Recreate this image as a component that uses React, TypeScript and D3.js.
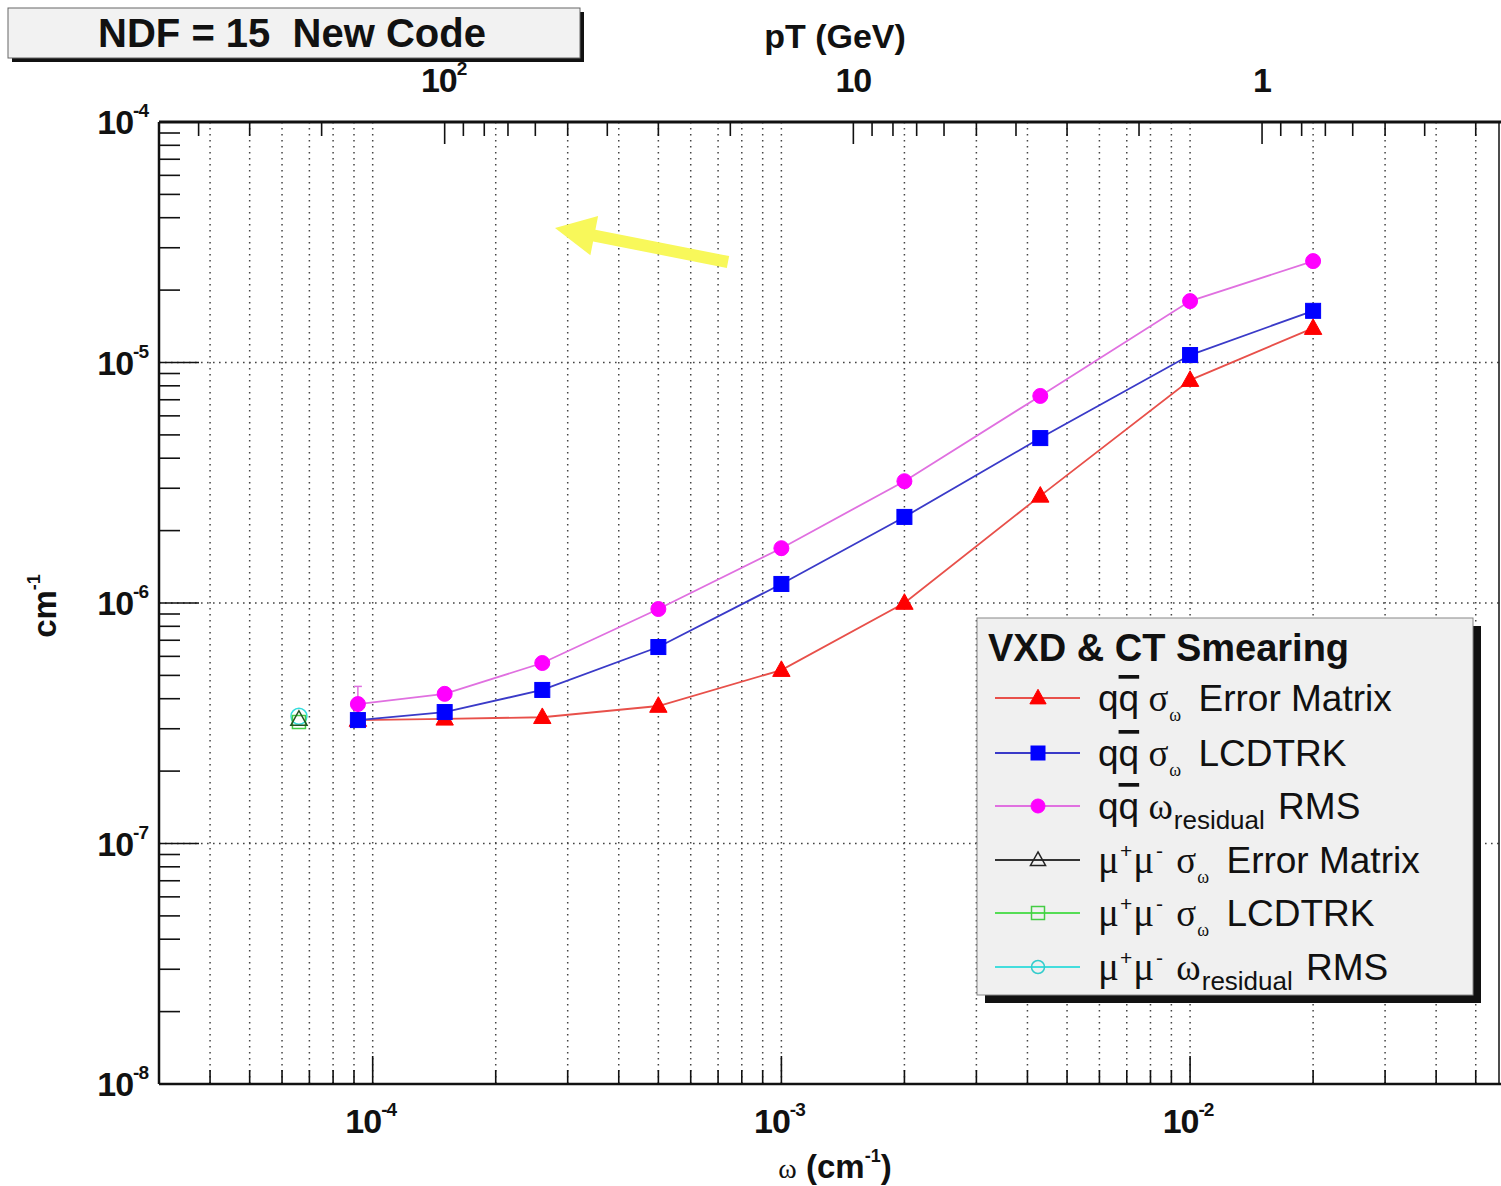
import React from "react";
import * as d3 from "d3";

// ---------- data ----------
const omegaQQ = [9.2e-5, 1.5e-4, 2.6e-4, 5.0e-4, 1.0e-3, 2.0e-3, 4.3e-3, 1.0e-2, 2.0e-2];
const qqErrorMatrix = [3.26e-7, 3.3e-7, 3.35e-7, 3.73e-7, 5.26e-7, 1.0e-6, 2.79e-6, 8.45e-6, 1.39e-5];
const qqLcdtrk = [3.26e-7, 3.52e-7, 4.35e-7, 6.56e-7, 1.2e-6, 2.28e-6, 4.85e-6, 1.074e-5, 1.64e-5];
const qqRms = [3.8e-7, 4.19e-7, 5.63e-7, 9.44e-7, 1.69e-6, 3.21e-6, 7.26e-6, 1.8e-5, 2.64e-5];
const qqRmsErr = [0.7e-7, 0.1e-7, 0.1e-7, 0.1e-7, 0.1e-7, 0.1e-7, 0.1e-7, 0.1e-7, 0.1e-7];

const omegaMu = [6.6e-5];
const muErrorMatrix = [3.28e-7];
const muLcdtrk = [3.2e-7];
const muRms = [3.38e-7];

const xMajor = [1e-4, 1e-3, 1e-2];
const xMajorExp = ["-4", "-3", "-2"];
const yMajor = [1e-4, 1e-5, 1e-6, 1e-7, 1e-8];
const yMajorExp = ["-4", "-5", "-6", "-7", "-8"];
const ptMajor = [100, 10, 1];
const ptMajorLabel = [["10", "2"], ["10", ""], ["1", ""]];

const PT_CONST = 0.015; // pT (GeV) = 0.015 / omega (cm^-1)

const SANS = "'Liberation Sans', Arial, Helvetica, sans-serif";
const SERIF = "'Liberation Serif', 'DejaVu Serif', serif";

export default function App() {
  const L = 159, R = 1499, T = 122, B = 1084;
  const x = d3.scaleLog().domain([3e-5, 0.057]).range([L, R]);
  const y = d3.scaleLog().domain([1e-8, 1e-4]).range([B, T]);
  const pt = d3.scaleLog().domain([PT_CONST / 3e-5, PT_CONST / 0.057]).range([L, R]);

  const xTicks = x.ticks().filter((t) => t >= 3e-5 * 0.999 && t <= 0.057);
  const yTicks = y.ticks();
  const ptTicks = pt.ticks().filter((t) => t <= PT_CONST / 3e-5 && t >= PT_CONST / 0.057);
  const isMajor = (t: number) => Math.abs(Math.log10(t) - Math.round(Math.log10(t))) < 1e-6;

  const line = d3
    .line<[number, number]>()
    .x((d) => x(d[0]))
    .y((d) => y(d[1]));

  const tri = (cx: number, cy: number, s: number) =>
    `M${cx},${cy - s * 0.62} L${cx + s * 0.58},${cy + s * 0.42} L${cx - s * 0.58},${cy + s * 0.42} Z`;

  const series = [
    { vals: qqErrorMatrix, line: "#e8504a", color: "#ff0000", marker: "tri", fill: true },
    { vals: qqLcdtrk, line: "#3a3ac8", color: "#0000ff", marker: "sq", fill: true },
    { vals: qqRms, line: "#e070e0", color: "#ff00ff", marker: "circ", fill: true },
  ];

  const drawMarker = (kind: string, cx: number, cy: number, color: string, fill: boolean, key: string, size = 15) => {
    if (kind === "tri")
      return <path key={key} d={tri(cx, cy, size)} fill={fill ? color : "none"} stroke={color} strokeWidth={fill ? 1 : 1.5} />;
    if (kind === "sq")
      return (
        <rect key={key} x={cx - size / 2} y={cy - size / 2} width={size} height={size}
          fill={fill ? color : "none"} stroke={color} strokeWidth={fill ? 1 : 1.5} />
      );
    return <circle key={key} cx={cx} cy={cy} r={size / 2} fill={fill ? color : "none"} stroke={color} strokeWidth={fill ? 1 : 1.5} />;
  };

  // yellow arrow
  const ax0 = 728, ay0 = 262, ax1 = 555, ay1 = 228;
  const adx = ax1 - ax0, ady = ay1 - ay0;
  const alen = Math.hypot(adx, ady);
  const ux = adx / alen, uy = ady / alen, nx = -uy, ny = ux;
  const headLen = 40, headHalf = 20, shaftHalf = 6;
  const hbx = ax1 - ux * headLen, hby = ay1 - uy * headLen;
  const arrowPts = [
    [ax0 + nx * shaftHalf, ay0 + ny * shaftHalf],
    [hbx + nx * shaftHalf, hby + ny * shaftHalf],
    [hbx + nx * headHalf, hby + ny * headHalf],
    [ax1, ay1],
    [hbx - nx * headHalf, hby - ny * headHalf],
    [hbx - nx * shaftHalf, hby - ny * shaftHalf],
    [ax0 - nx * shaftHalf, ay0 - ny * shaftHalf],
  ]
    .map((p) => p.join(","))
    .join(" ");

  const legendRows = [
    { y: 698, line: "#e8504a", color: "#ff0000", marker: "tri", fill: true, kind: "qq", sym: "σ", sub: "ω", rest: "Error Matrix" },
    { y: 753, line: "#3a3ac8", color: "#0000ff", marker: "sq", fill: true, kind: "qq", sym: "σ", sub: "ω", rest: "LCDTRK" },
    { y: 806, line: "#e070e0", color: "#ff00ff", marker: "circ", fill: true, kind: "qq", sym: "ω", sub: "residual", rest: "RMS" },
    { y: 860, line: "#333333", color: "#222222", marker: "tri", fill: false, kind: "mu", sym: "σ", sub: "ω", rest: "Error Matrix" },
    { y: 913, line: "#55dd55", color: "#44cc44", marker: "sq", fill: false, kind: "mu", sym: "σ", sub: "ω", rest: "LCDTRK" },
    { y: 967, line: "#44dddd", color: "#33cccc", marker: "circ", fill: false, kind: "mu", sym: "ω", sub: "residual", rest: "RMS" },
  ];

  const LBL = 34;
  const SUP = 19;

  return (
    <svg width={1501} height={1186} style={{ display: "block", position: "absolute", left: 0, top: 0, background: "#fff" }}>
      <rect x={0} y={0} width={1501} height={1186} fill="#fff" />

      {/* grid */}
      {xTicks.map((t, i) => (
        <line key={"gx" + i} x1={x(t)} x2={x(t)} y1={T} y2={B} stroke="#444" strokeWidth={1.5} strokeDasharray="1.6 4.4" />
      ))}
      {[1e-5, 1e-6, 1e-7].map((t, i) => (
        <line key={"gy" + i} x1={L} x2={R} y1={y(t)} y2={y(t)} stroke="#444" strokeWidth={1.5} strokeDasharray="1.6 4.4" />
      ))}

      {/* ticks bottom */}
      {xTicks.map((t, i) => (
        <line key={"tx" + i} x1={x(t)} x2={x(t)} y1={B} y2={B - (isMajor(t) ? 28 : 14)} stroke="#111" strokeWidth={1.6} />
      ))}
      {/* ticks left */}
      {yTicks.map((t, i) => (
        <line key={"ty" + i} x1={L} x2={L + (isMajor(t) ? 40 : 21)} y1={y(t)} y2={y(t)} stroke="#111" strokeWidth={1.6} />
      ))}
      {/* ticks top (pT) */}
      {ptTicks.map((t, i) => (
        <line key={"tp" + i} x1={pt(t)} x2={pt(t)} y1={T} y2={T + (isMajor(t) ? 22 : 14)} stroke="#111" strokeWidth={1.6} />
      ))}

      {/* frame */}
      <line x1={L} x2={R + 2} y1={T} y2={T} stroke="#111" strokeWidth={3} />
      <line x1={L} x2={R + 2} y1={B} y2={B} stroke="#111" strokeWidth={2.5} />
      <line x1={L} x2={L} y1={T} y2={B} stroke="#111" strokeWidth={2.5} />
      <line x1={R} x2={R} y1={T} y2={B} stroke="#111" strokeWidth={1.5} />

      {/* series lines */}
      {series.map((s, si) => (
        <path key={"l" + si} d={line(omegaQQ.map((o, i) => [o, s.vals[i]]) as [number, number][]) || ""}
          fill="none" stroke={s.line} strokeWidth={1.8} />
      ))}
      {/* error bar on RMS */}
      {omegaQQ.map((o, i) => (
        <g key={"eb" + i}>
          <line x1={x(o)} x2={x(o)} y1={y(qqRms[i] + qqRmsErr[i])} y2={y(qqRms[i] - qqRmsErr[i])} stroke="#e070e0" strokeWidth={1.5} />
          <line x1={x(o) - 4} x2={x(o) + 4} y1={y(qqRms[i] + qqRmsErr[i])} y2={y(qqRms[i] + qqRmsErr[i])} stroke="#e070e0" strokeWidth={1.5} />
        </g>
      ))}
      {series.map((s, si) => (
        <g key={"m" + si}>
          {omegaQQ.map((o, i) => drawMarker(s.marker, x(o), y(s.vals[i]), s.color, s.fill, `m${si}-${i}`))}
        </g>
      ))}

      {/* muon points */}
      {omegaMu.map((o, i) => (
        <g key={"mu" + i}>
          {drawMarker("circ", x(o), y(muRms[i]), "#33dddd", false, "mc" + i, 16)}
          {drawMarker("sq", x(o), y(muLcdtrk[i]), "#44cc44", false, "ms" + i, 13)}
          {drawMarker("tri", x(o), y(muErrorMatrix[i]), "#225522", false, "mt" + i, 14)}
        </g>
      ))}

      {/* yellow arrow */}
      <polygon points={arrowPts} fill="#f8f85a" />

      {/* bottom tick labels */}
      {xMajor.map((t, i) => (
        <text key={"xl" + i} x={x(t) - 2} y={1133} textAnchor="middle" fontFamily={SANS} fontWeight="bold" fontSize={LBL} fill="#111" letterSpacing={-1}>
          10<tspan dy={-17} fontSize={SUP}>{xMajorExp[i]}</tspan>
        </text>
      ))}
      {/* left tick labels */}
      {yMajor.map((t, i) => (
        <text key={"yl" + i} x={148} y={y(t) + 12} textAnchor="end" fontFamily={SANS} fontWeight="bold" fontSize={LBL} fill="#111" letterSpacing={-1}>
          10<tspan dy={-17} fontSize={SUP}>{yMajorExp[i]}</tspan>
        </text>
      ))}
      {/* top tick labels */}
      {ptMajor.map((t, i) => (
        <text key={"pl" + i} x={pt(t) - (ptMajorLabel[i][1] ? 1 : 0)} y={92} textAnchor="middle" fontFamily={SANS} fontWeight="bold" fontSize={LBL} fill="#111" letterSpacing={-1}>
          {ptMajorLabel[i][0]}
          {ptMajorLabel[i][1] ? <tspan dy={-17} fontSize={SUP}>{ptMajorLabel[i][1]}</tspan> : null}
        </text>
      ))}

      {/* axis titles */}
      <text x={835} y={48} textAnchor="middle" fontFamily={SANS} fontWeight="bold" fontSize={34} fill="#111">pT (GeV)</text>
      <text x={835} y={1178} textAnchor="middle" fontFamily={SANS} fontWeight="bold" fontSize={33} fill="#111">
        <tspan fontFamily={SERIF} fontWeight="normal" fontSize={28}>ω</tspan>
        <tspan> (cm</tspan>
        <tspan dy={-16} fontSize={18}>-1</tspan>
        <tspan dy={16}>)</tspan>
      </text>
      <text transform="translate(56,606) rotate(-90)" textAnchor="middle" fontFamily={SANS} fontWeight="bold" fontSize={33} fill="#111">
        cm<tspan dy={-16} fontSize={18}>-1</tspan>
      </text>

      {/* title box */}
      <rect x={12} y={12} width={572} height={50} fill="#111" />
      <rect x={8} y={8} width={572} height={50} fill="#f2f2f2" stroke="#666" strokeWidth={1} />
      <text x={292} y={47} textAnchor="middle" fontFamily={SANS} fontWeight="bold" fontSize={40} fill="#111" style={{ whiteSpace: "pre" }}>
        {"NDF = 15  New Code"}
      </text>

      {/* legend */}
      <rect x={985} y={626} width={496} height={377} fill="#111" />
      <rect x={977} y={618} width={496} height={377} fill="#f0f0f0" stroke="#888" strokeWidth={1} />
      <text x={988} y={661} fontFamily={SANS} fontWeight="bold" fontSize={38} fill="#111">VXD &amp; CT Smearing</text>
      {legendRows.map((r, i) => (
        <g key={"lg" + i}>
          <line x1={995} x2={1080} y1={r.y} y2={r.y} stroke={r.line} strokeWidth={1.8} />
          {drawMarker(r.marker, 1038, r.y, r.color, r.fill, "lm" + i, r.fill ? 14 : 13)}
          <text x={1098} y={r.y + 13} fontFamily={SANS} fontSize={37} fill="#111" style={{ whiteSpace: "pre" }}>
            {r.kind === "qq" ? (
              <>
                <tspan>q</tspan>
                <tspan style={{ textDecoration: "overline" }}>q</tspan>
                <tspan fontFamily={SERIF}>{" " + r.sym}</tspan>
              </>
            ) : (
              <>
                <tspan fontFamily={SERIF} fontSize={39}>μ</tspan>
                <tspan dy={-15} dx={1} fontSize={21}>+</tspan>
                <tspan dy={15} dx={1} fontFamily={SERIF} fontSize={39}>μ</tspan>
                <tspan dy={-15} dx={2} fontSize={21}>-</tspan>
                <tspan dy={15} dx={4} fontFamily={SERIF}>{" " + r.sym}</tspan>
              </>
            )}
            <tspan dy={10} dx={1} fontFamily={r.sub === "ω" ? SERIF : SANS} fontSize={r.sub === "ω" ? 18 : 26}>{r.sub}</tspan>
            <tspan dy={-10} dx={r.sub === "ω" ? 7 : 3}>{" " + r.rest}</tspan>
          </text>
        </g>
      ))}
    </svg>
  );
}
